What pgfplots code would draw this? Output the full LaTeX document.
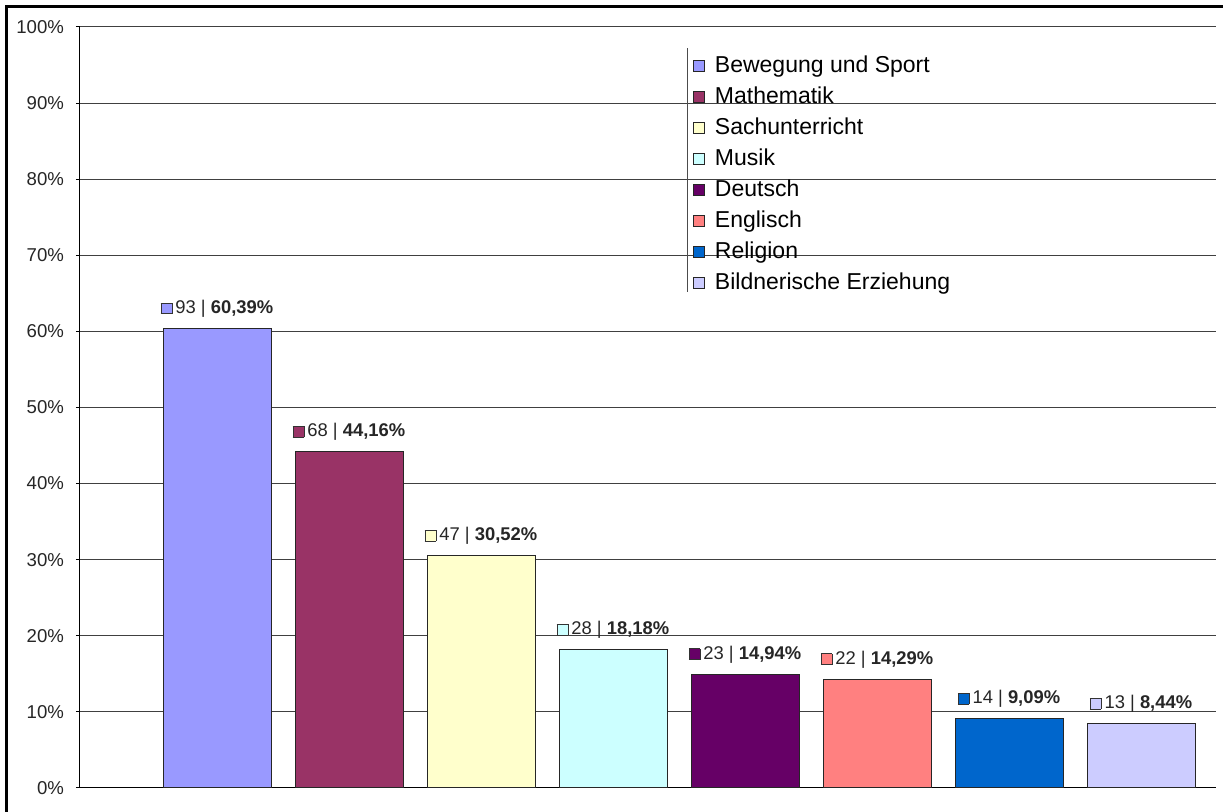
\documentclass[border=0pt]{standalone}
\usepackage{fontspec}
\setmainfont{Liberation Sans}
\usepackage{pgfplots}
\pgfplotsset{compat=1.18}

\definecolor{fsport}{HTML}{9999FF}
\definecolor{fmathe}{HTML}{993366}
\definecolor{fsach}{HTML}{FFFFCC}
\definecolor{fmusik}{HTML}{CCFFFF}
\definecolor{fdeutsch}{HTML}{660066}
\definecolor{fengl}{HTML}{FF8080}
\definecolor{freli}{HTML}{0066CC}
\definecolor{fbe}{HTML}{CCCCFF}

% little coloured square in the value labels
\newcommand{\sq}[1]{{\setlength{\fboxsep}{0pt}\setlength{\fboxrule}{0.4pt}\fcolorbox{black!80}{#1}{\rule{0pt}{5pt}\hspace{5pt}}}}

\pgfplotsset{
  fach/.style={fill=#1, draw=black!85, line width=0.5pt,
    nodes near coords={\sq{#1}\,\pgfplotspointmeta\ |\ \textbf{\pgfmathprintnumber[fixed,fixed zerofill,precision=2,use comma]{\pgfkeysvalueof{/data point/y}}\%}},
  },
}

\begin{document}
\begin{tikzpicture}
\useasboundingbox (-40pt,-12pt) rectangle (571.5pt,394pt);
\fill[white] (-40pt,-12pt) rectangle (571.5pt,394pt);
\begin{axis}[
    at={(0,0)}, anchor=south west,
    scale only axis,
    width=568pt, height=380.5pt,
    xmin=-1.038, xmax=7.568,
    ymin=0, ymax=100,
    ybar, bar width=54pt, bar shift=0pt,
    point meta=explicit symbolic,
    axis x line=bottom, axis y line=left,
    axis line style={black, line width=0.5pt, -},
    xtick=\empty,
    ytick={0,10,...,100},
    yticklabel={\pgfmathprintnumber{\tick}\%},
    /pgf/number format/assume math mode=true,
    yticklabel style={font=\fontsize{9.3}{11}\selectfont, text=black!85, xshift=-2.5pt},
    tick align=outside, major tick length=2pt,
    tick style={black, line width=0.5pt},
    ymajorgrids=true,
    grid style={black!75, line width=0.5pt},
    nodes near coords style={font=\fontsize{9.2}{11}\selectfont, text=black!85, anchor=south, yshift=2pt},
    legend image code/.code={\draw[#1] (0pt,-2.8pt) rectangle (5.6pt,2.8pt);},
    legend style={at={(0.535,0.972)}, anchor=north west, draw=none, fill=none,
      font=\fontsize{11.5}{13}\selectfont, inner xsep=2.5pt, inner ysep=1pt,
      row sep=0pt,
      nodes={text height=9pt, text depth=3pt, inner ysep=1.75pt, inner xsep=4.8pt}},
    legend cell align=left,
    clip=false,
]
\addplot[fach=fsport] coordinates {(0,60.39) [93]};
\addlegendentry{Bewegung und Sport}
\addplot[fach=fmathe] coordinates {(1,44.16) [68]};
\addlegendentry{Mathematik}
\addplot[fach=fsach] coordinates {(2,30.52) [47]};
\addlegendentry{Sachunterricht}
\addplot[fach=fmusik] coordinates {(3,18.18) [28]};
\addlegendentry{Musik}
\addplot[fach=fdeutsch] coordinates {(4,14.94) [23]};
\addlegendentry{Deutsch}
\addplot[fach=fengl] coordinates {(5,14.29) [22]};
\addlegendentry{Englisch}
\addplot[fach=freli] coordinates {(6,9.09) [14]};
\addlegendentry{Religion}
\addplot[fach=fbe] coordinates {(7,8.44) [13]};
\addlegendentry{Bildnerische Erziehung}
\draw[black!70, line width=0.5pt] (axis description cs:0.535,0.972) -- (axis description cs:0.535,0.652);
\end{axis}
% outer frame (top and left edges of the cropped chart)
\draw[black, line width=1.5pt] (-36.75pt,-12pt) -- (-36.75pt,390.75pt) -- (571.5pt,390.75pt);
\end{tikzpicture}
\end{document}
